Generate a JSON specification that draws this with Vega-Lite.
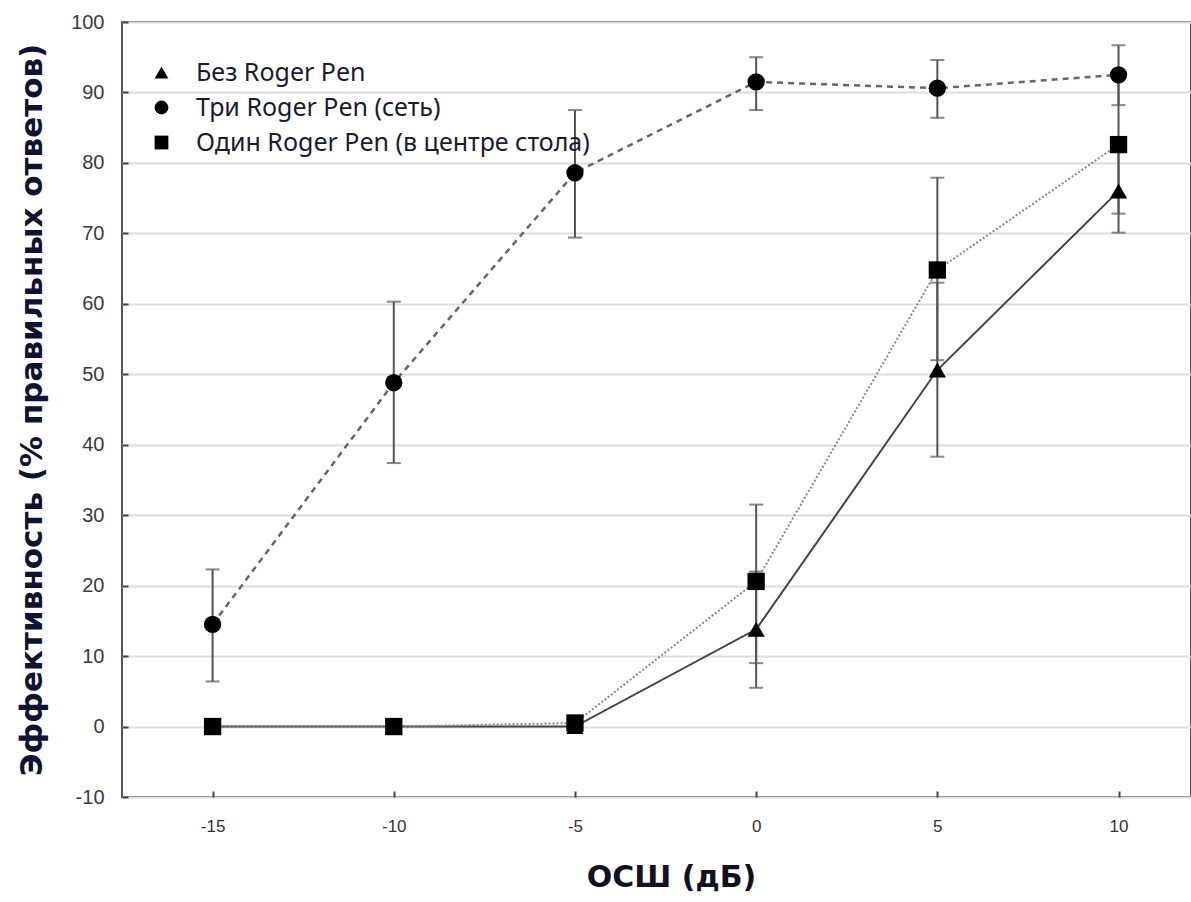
{
  "$schema": "https://vega.github.io/schema/vega-lite/v6.json",
  "width": 1069,
  "height": 775,
  "autosize": {"type": "none"},
  "padding": {"left": 122, "top": 22, "right": 0, "bottom": 105},
  "background": "white",
  "config": {
    "view": {"stroke": "#555555", "strokeWidth": 2},
    "font": "Liberation Sans"
  },
  "data": {
    "values": [
      {"series": "Без Roger Pen", "x": -15, "y": 0, "lo": null, "hi": null},
      {"series": "Без Roger Pen", "x": -10, "y": 0, "lo": null, "hi": null},
      {"series": "Без Roger Pen", "x": -5, "y": 0, "lo": null, "hi": null},
      {"series": "Без Roger Pen", "x": 0, "y": 13.8, "lo": 5.5, "hi": 22},
      {"series": "Без Roger Pen", "x": 5, "y": 50.6, "lo": 38.3, "hi": 63.0},
      {"series": "Без Roger Pen", "x": 10, "y": 76, "lo": 70.1, "hi": 82},
      {"series": "Три Roger Pen (сеть)", "x": -15, "y": 14.5, "lo": 6.4, "hi": 22.3},
      {"series": "Три Roger Pen (сеть)", "x": -10, "y": 48.8, "lo": 37.4, "hi": 60.3},
      {"series": "Три Roger Pen (сеть)", "x": -5, "y": 78.6, "lo": 69.4, "hi": 87.5},
      {"series": "Три Roger Pen (сеть)", "x": 0, "y": 91.5, "lo": 87.5, "hi": 95.0},
      {"series": "Три Roger Pen (сеть)", "x": 5, "y": 90.6, "lo": 86.4, "hi": 94.6},
      {"series": "Три Roger Pen (сеть)", "x": 10, "y": 92.5, "lo": 88.2, "hi": 96.7},
      {"series": "Один Roger Pen (в центре стола)", "x": -15, "y": 0, "lo": null, "hi": null},
      {"series": "Один Roger Pen (в центре стола)", "x": -10, "y": 0, "lo": null, "hi": null},
      {"series": "Один Roger Pen (в центре стола)", "x": -5, "y": 0.5, "lo": null, "hi": null},
      {"series": "Один Roger Pen (в центре стола)", "x": 0, "y": 20.6, "lo": 9.0, "hi": 31.5},
      {"series": "Один Roger Pen (в центре стола)", "x": 5, "y": 64.8, "lo": 52, "hi": 77.9},
      {"series": "Один Roger Pen (в центре стола)", "x": 10, "y": 82.6, "lo": 72.8, "hi": 92.4}
    ]
  },
  "encoding": {
    "x": {
      "field": "x", "type": "quantitative",
      "scale": {"domain": [-17.5, 12], "nice": false, "zero": false},
      "axis": {
        "title": "ОСШ (дБ)", "values": [-15, -10, -5, 0, 5, 10], "labelExpr": "'' + datum.value",
        "grid": false, "domain": false, "tickSize": -6, "tickColor": "#444444", "tickWidth": 2,
        "labelFont": "Liberation Sans", "labelFontSize": 17, "labelColor": "#333333", "labelPadding": 27,
        "titleFont": "DejaVu Sans", "titleFontSize": 30, "titleFontWeight": "bold", "titleColor": "#111122", "titlePadding": 28, "titleX": 549
      }
    },
    "y": {
      "type": "quantitative",
      "scale": {"domain": [-10, 100], "nice": false},
      "title": "Эффективность (% правильных ответов)",
      "axis": {
        "values": [-10, 0, 10, 20, 30, 40, 50, 60, 70, 80, 90, 100], "labelExpr": "'' + datum.value",
        "grid": true, "gridColor": "#dddddd", "gridWidth": 2,
        "domain": false, "tickSize": -6, "tickColor": "#444444", "tickWidth": 2,
        "labelFont": "Liberation Sans", "labelFontSize": 20, "labelColor": "#3a3a3a", "labelPadding": 24,
        "titleFont": "DejaVu Sans", "titleFontSize": 31, "titleFontWeight": "bold", "titleColor": "#111133", "titlePadding": 22
      }
    }
  },
  "layer": [
    {
      "transform": [{"filter": {"field": "lo", "valid": true}}],
      "mark": {"type": "errorbar", "ticks": true, "size": 14, "thickness": 2, "color": "#555555"},
      "encoding": {
        "y": {"field": "lo", "type": "quantitative", "title": "Эффективность (% правильных ответов)"},
        "y2": {"field": "hi"},
        "detail": {"field": "series"}
      }
    },
    {
      "transform": [{"filter": {"field": "series", "equal": "Без Roger Pen"}}],
      "mark": {"type": "line", "strokeWidth": 2, "color": "#444444"},
      "encoding": {"y": {"field": "y", "type": "quantitative", "title": "Эффективность (% правильных ответов)"}}
    },
    {
      "transform": [{"filter": {"field": "series", "equal": "Три Roger Pen (сеть)"}}],
      "mark": {"type": "line", "strokeWidth": 2.5, "color": "#666666", "strokeDash": [6, 5]},
      "encoding": {"y": {"field": "y", "type": "quantitative", "title": "Эффективность (% правильных ответов)"}}
    },
    {
      "transform": [{"filter": {"field": "series", "equal": "Один Roger Pen (в центре стола)"}}],
      "mark": {"type": "line", "strokeWidth": 2, "color": "#888888", "strokeDash": [2, 2]},
      "encoding": {"y": {"field": "y", "type": "quantitative", "title": "Эффективность (% правильных ответов)"}}
    },
    {
      "mark": {"type": "point", "filled": true, "opacity": 1, "color": "#000000"},
      "encoding": {
        "y": {"field": "y", "type": "quantitative", "title": "Эффективность (% правильных ответов)"},
        "shape": {
          "field": "series", "type": "nominal",
          "scale": {"domain": ["Без Roger Pen", "Три Roger Pen (сеть)", "Один Roger Pen (в центре стола)"], "range": ["triangle-up", "circle", "square"]},
          "legend": {
            "title": null, "orient": "none", "legendX": 27, "legendY": 38,
            "labelFont": "Noto Sans", "labelFontSize": 25, "labelColor": "#1a1a2e",
            "symbolSize": 190, "symbolFillColor": "#000000", "symbolStrokeColor": "#000000",
            "rowPadding": 9, "labelOffset": 22, "labelLimit": 700
          }
        },
        "size": {"value": 300}
      }
    }
  ]
}
